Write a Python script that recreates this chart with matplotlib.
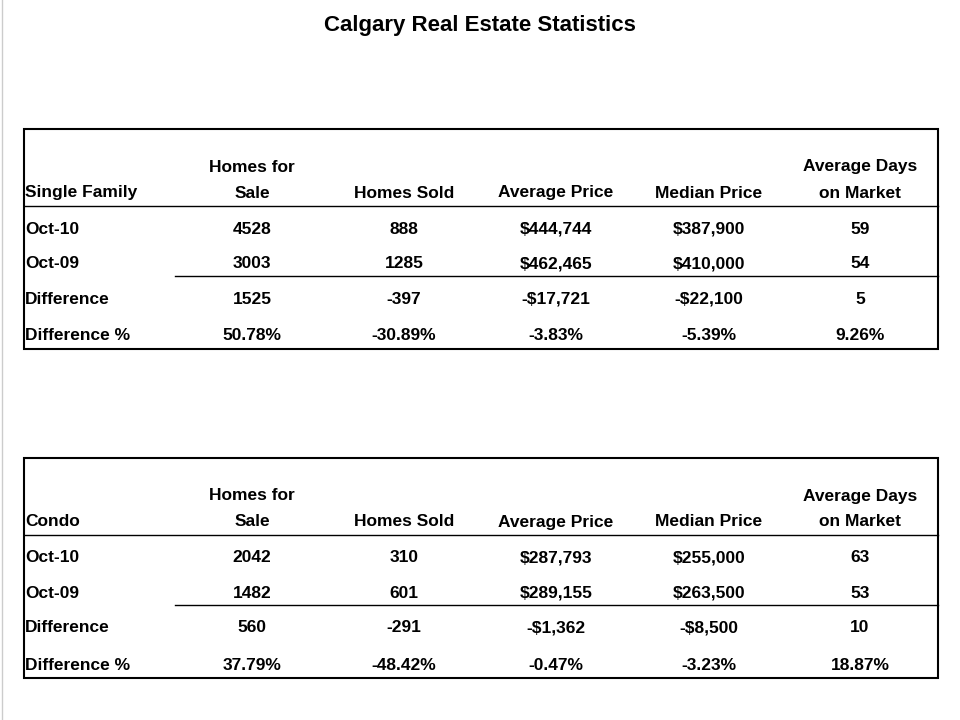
import matplotlib.pyplot as plt
from matplotlib.patches import Rectangle

title = "Calgary Real Estate Statistics"
columns = ["Homes for\nSale", "Homes Sold", "Average Price", "Median Price", "Average Days\non Market"]
row_labels = ["Oct-10", "Oct-09", "Difference", "Difference %"]

single_family = [
    ["4528", "888", "$444,744", "$387,900", "59"],
    ["3003", "1285", "$462,465", "$410,000", "54"],
    ["1525", "-397", "-$17,721", "-$22,100", "5"],
    ["50.78%", "-30.89%", "-3.83%", "-5.39%", "9.26%"],
]
condo = [
    ["2042", "310", "$287,793", "$255,000", "63"],
    ["1482", "601", "$289,155", "$263,500", "53"],
    ["560", "-291", "-$1,362", "-$8,500", "10"],
    ["37.79%", "-48.42%", "-0.47%", "-3.23%", "18.87%"],
]

plt.rcParams['font.family'] = ['Liberation Sans', 'DejaVu Sans']
fig = plt.figure(figsize=(9.6, 7.2), dpi=100)
ax = fig.add_axes([0, 0, 1, 1])
ax.set_xlim(0, 960)
ax.set_ylim(720, 0)
ax.axis('off')

ax.text(480, 26, title, ha='center', va='center', fontsize=16, fontweight='bold')
ax.plot([2, 2], [0, 720], color='#cccccc', lw=1)

col_x = [252, 404, 556, 709, 860]
row_y = [229, 264, 299, 336]
fs = 12.5


def draw_table(top, name, data):
    ax.add_patch(Rectangle((24, top), 914, 220, fill=False, ec='black', lw=1.5))
    ax.text(25, top + 64, name, ha='left', va='center', fontsize=fs, fontweight='bold')
    for x, c in zip(col_x, columns):
        lines = c.split('\n')
        ys = [top + 38, top + 64] if len(lines) == 2 else [top + 64]
        for ln, y in zip(lines, ys):
            ax.text(x, y, ln, ha='center', va='center', fontsize=fs, fontweight='bold')
    ax.plot([24, 938], [top + 77, top + 77], color='black', lw=1)
    ax.plot([175, 938], [top + 147, top + 147], color='black', lw=1)
    for r, (lab, vals) in enumerate(zip(row_labels, data)):
        y = top + (row_y[r] - 129)
        ax.text(25, y, lab, ha='left', va='center', fontsize=fs, fontweight='bold')
        for x, v in zip(col_x, vals):
            ax.text(x, y, v, ha='center', va='center', fontsize=fs, fontweight='bold')


draw_table(129, "Single Family", single_family)
draw_table(458, "Condo", condo)

plt.savefig('out.png', dpi=100)
